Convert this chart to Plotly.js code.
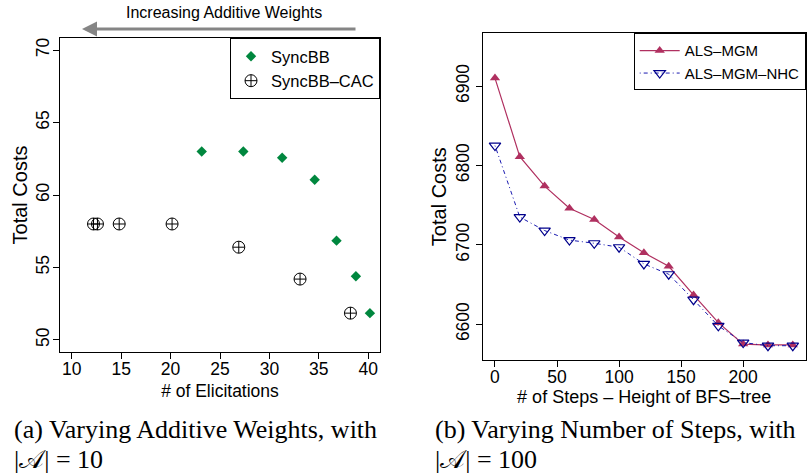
<!DOCTYPE html>
<html><head><meta charset="utf-8">
<script src="https://cdn.plot.ly/plotly-3.0.1.min.js"></script>
<style>html,body{margin:0;padding:0;background:#fff}#c{width:811px;height:474px}</style>
</head><body><div id="c"></div>
<script>
// Left panel: Varying Additive Weights
const syncbbX = [23.15, 27.36, 31.29, 34.58, 36.79, 38.75, 40.17];
const syncbbY = [63.0, 63.0, 62.57, 61.05, 56.85, 54.4, 51.85];
const cacX = [12.2, 12.6, 14.8, 20.15, 26.9, 33.1, 38.2];
const cacY = [58.0, 58.0, 58.0, 58.0, 56.4, 54.2, 51.85];
const leftXTicks = [10, 15, 20, 25, 30, 35, 40];
const leftYTicks = [50, 55, 60, 65, 70];
// Right panel: Varying Number of Steps
const steps = [0, 20, 40, 60, 80, 100, 120, 140, 160, 180, 200, 220, 240];
const alsMgm = [6910, 6811, 6774, 6746, 6732, 6710, 6690, 6673, 6637, 6602, 6575, 6574, 6574];
const alsMgmNhc = [6825, 6735, 6718, 6706, 6702, 6697, 6676, 6663, 6631, 6598, 6577, 6573, 6573];
const rightXTicks = [0, 50, 100, 150, 200];
const rightYTicks = [6600, 6700, 6800, 6900];

const W = 811, H = 474;
const px = v => v / W, py = v => 1 - v / H;
const SANS = 'Liberation Sans, Arial, sans-serif';
const SERIF = 'Liberation Serif, serif';

const traces = [
  {x: syncbbX, y: syncbbY, name: 'SyncBB', type: 'scatter', mode: 'markers', xaxis: 'x', yaxis: 'y',
   marker: {symbol: 'diamond', size: 8, color: '#00873E'}, legend: 'legend'},
  {x: cacX, y: cacY, name: 'SyncBB\u2013CAC', type: 'scatter', mode: 'markers', xaxis: 'x', yaxis: 'y',
   marker: {symbol: 'circle-cross-open', size: 12, color: '#000', line: {width: 1, color: '#000'}}, legend: 'legend'},
  {x: steps, y: alsMgm, name: 'ALS\u2013MGM', type: 'scatter', mode: 'lines+markers', xaxis: 'x2', yaxis: 'y2',
   line: {color: '#B03060', width: 1.2}, marker: {symbol: 'triangle-up', size: 9, color: '#B03060'}, legend: 'legend2'},
  {x: steps, y: alsMgmNhc, name: 'ALS\u2013MGM\u2013NHC', type: 'scatter', mode: 'lines+markers', xaxis: 'x2', yaxis: 'y2',
   line: {color: '#1A1AB0', width: 1, dash: '1px,3px,4px,3px'},
   marker: {symbol: 'triangle-down-open', size: 10, color: '#00008B', line: {width: 1.2, color: '#00008B'}}, legend: 'legend2'}
];

const axBase = {showline: true, mirror: true, linecolor: '#000', linewidth: 1, ticks: 'outside', ticklen: 6,
  tickcolor: '#000', showgrid: false, zeroline: false, tickmode: 'array', tickfont: {family: SANS, size: 17.5, color: '#000'}};

const layout = {
  width: W, height: H, margin: {l: 0, r: 0, t: 0, b: 0}, paper_bgcolor: '#fff', plot_bgcolor: '#fff',
  font: {family: SANS, color: '#000'},
  xaxis: Object.assign({}, axBase, {domain: [px(60), px(380)], range: [8.81, 41.19], tickvals: leftXTicks,
    anchor: 'y', ticklabelstandoff: -5, title: {text: '# of Elicitations', font: {family: SANS, size: 17.5}, standoff: 6}}),
  yaxis: Object.assign({}, axBase, {domain: [py(352), py(38)], range: [49.17, 70.83], tickvals: leftYTicks,
    anchor: 'x', tickangle: -90, ticklabelstandoff: -3, title: {text: 'Total Costs', font: {family: SANS, size: 20}, standoff: 0}}),
  xaxis2: Object.assign({}, axBase, {domain: [px(482.7), px(805.7)], range: [-9.9, 250.4], tickvals: rightXTicks,
    anchor: 'y2', ticklabelstandoff: -5, title: {text: '# of Steps \u2013 Height of BFS\u2013tree', font: {family: SANS, size: 18}, standoff: 3}}),
  yaxis2: Object.assign({}, axBase, {domain: [py(360), py(33.3)], range: [6555, 6966.4], tickvals: rightYTicks,
    anchor: 'x2', tickangle: -90, title: {text: 'Total Costs', font: {family: SANS, size: 20}, standoff: 0}}),
  showlegend: true,
  legend: {x: px(380), y: py(38), xanchor: 'right', yanchor: 'top', bgcolor: '#fff', bordercolor: '#000', borderwidth: 1,
    font: {family: SANS, size: 16.5}, itemwidth: 30},
  legend2: {x: px(805.7), y: py(33.3), xanchor: 'right', yanchor: 'top', bgcolor: '#fff', bordercolor: '#000', borderwidth: 1,
    font: {family: SANS, size: 15}, itemwidth: 40},
  annotations: [
    {text: 'Increasing Additive Weights', x: px(224), y: py(12), xref: 'paper', yref: 'paper', xanchor: 'center', yanchor: 'middle',
     showarrow: false, font: {family: SANS, size: 16, color: '#000'}},
    {text: '', x: px(82), y: py(29), ax: px(357), ay: py(29), xref: 'paper', yref: 'paper', axref: 'paper', ayref: 'paper',
     showarrow: true, arrowhead: 2, arrowsize: 1, arrowwidth: 3, arrowcolor: '#858585'},
    {text: '(a) Varying Additive Weights, with', x: px(12), y: py(429), xref: 'paper', yref: 'paper', xanchor: 'left', yanchor: 'middle',
     showarrow: false, font: {family: SERIF, size: 26, color: '#000'}},
    {text: '|\uD835\uDC9C| = 10', x: px(12), y: py(459), xref: 'paper', yref: 'paper', xanchor: 'left', yanchor: 'middle',
     showarrow: false, font: {family: SERIF, size: 26, color: '#000'}},
    {text: '(b) Varying Number of Steps, with', x: px(433), y: py(429), xref: 'paper', yref: 'paper', xanchor: 'left', yanchor: 'middle',
     showarrow: false, font: {family: SERIF, size: 26, color: '#000'}},
    {text: '|\uD835\uDC9C| = 100', x: px(433), y: py(459), xref: 'paper', yref: 'paper', xanchor: 'left', yanchor: 'middle',
     showarrow: false, font: {family: SERIF, size: 26, color: '#000'}}
  ]
};
Plotly.newPlot('c', traces, layout, {displayModeBar: false, staticPlot: true});
</script></body></html>
